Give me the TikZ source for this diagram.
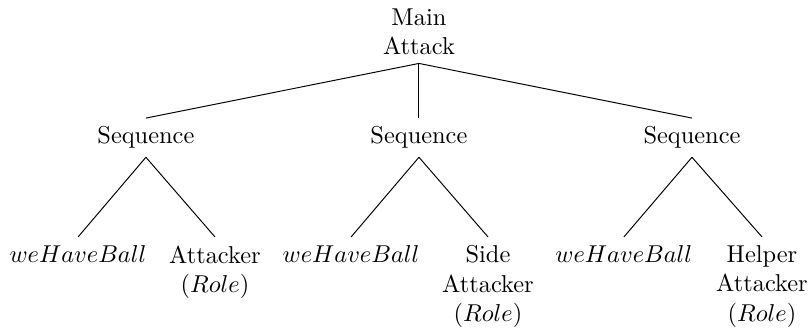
\documentclass[tikz,border=0pt]{standalone}
\begin{document}
\begin{tikzpicture}[x=1pt,y=1pt,
  tn/.style={anchor=north, align=center, inner sep=3.33pt},
  edge/.style={draw=black, line width=0.4pt}]
\useasboundingbox (0,-136.07) rectangle (331.15,0);
\node[tn] (root) at (171.7,0) {Main\\Attack};
\node[tn] (s1) at (59.8,-48.4) {Sequence};
\node[tn] (s2) at (171.7,-48.4) {Sequence};
\node[tn] (s3) at (283.6,-48.4) {Sequence};
\node[tn] (l1) at (32.0,-97.1) {$weHaveBall$};
\node[tn] (r1) at (88.1,-97.1) {Attacker\\($Role$)};
\node[tn] (l2) at (143.9,-97.1) {$weHaveBall$};
\node[tn] (r2) at (200.0,-97.1) {Side\\Attacker\\($Role$)};
\node[tn] (l3) at (255.7,-97.1) {$weHaveBall$};
\node[tn] (r3) at (312.3,-97.1) {Helper\\Attacker\\($Role$)};
\draw[edge] (root.south) -- (s1.north);
\draw[edge] (root.south) -- (s2.north);
\draw[edge] (root.south) -- (s3.north);
\draw[edge] (s1.south) -- (l1.north);
\draw[edge] (s1.south) -- (r1.north);
\draw[edge] (s2.south) -- (l2.north);
\draw[edge] (s2.south) -- (r2.north);
\draw[edge] (s3.south) -- (l3.north);
\draw[edge] (s3.south) -- (r3.north);
\end{tikzpicture}
\end{document}
